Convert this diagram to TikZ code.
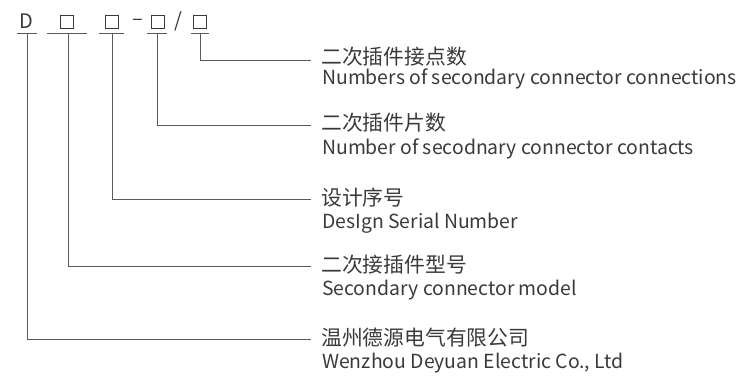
\documentclass[tikz,border=0pt]{standalone}
\usepackage{fontspec}
\setmainfont{Noto Sans CJK SC}
\begin{document}
\begin{tikzpicture}[x=1pt,y=-1pt,
  lbl/.style={anchor=west,inner sep=0pt,text=txtgray,font=\fontsize{19.4}{21}\selectfont},
  zh/.style={lbl,font=\fontsize{20.8}{22}\selectfont},
  sym/.style={inner sep=0pt,text=txtgray,font=\fontsize{20}{22}\selectfont},
  sq/.style={draw=txtgray,line width=0.8pt,minimum size=13.5pt,inner sep=0pt},
  ln/.style={draw=lngray,line width=0.9pt}]
\definecolor{txtgray}{HTML}{3A3A3A}
\definecolor{lngray}{HTML}{5A5A5A}
\useasboundingbox (0,0) rectangle (744,375);
% top code row
\node[sym] (d0) at (26,21) {D};
\node[sq] (b1) at (67,22) {};
\node[sq] (b2) at (112,22) {};
\node[sym] (dash) at (137.5,22) {–};
\node[sq] (b3) at (158,22) {};
\node[sym] (slash) at (178,21) {/};
\node[sq] (b4) at (200,22) {};
% underline centres
\coordinate (u0) at (27,33);
\coordinate (u1) at (68,33);
\coordinate (u2) at (112,33);
\coordinate (u3) at (157,33);
\coordinate (u4) at (200,33);
\draw[ln] (17,33) -- (37,33);
\draw[ln] (47,33) -- (87,33);
\draw[ln] (99,33) -- (124,33);
\draw[ln] (147,33) -- (167,33);
\draw[ln] (191,33) -- (209,33);
% labels
\node[zh] (c4) at (321,57) {二次插件接点数};
\node[lbl] (e4) at (322,79) {Numbers of secondary connector connections};
\node[zh] (c3) at (321,123) {二次插件片数};
\node[lbl] (e3) at (322,149) {Number of secodnary connector contacts};
\node[zh] (c2) at (321,198) {设计序号};
\node[lbl] (e2) at (322,223) {DesIgn Serial Number};
\node[zh] (c1) at (321,265) {二次接插件型号};
\node[lbl] (e1) at (322,290) {Secondary connector model};
\node[zh] (c0) at (321,338) {温州德源电气有限公司};
\node[lbl] (e0) at (322,363) {Wenzhou Deyuan Electric Co., Ltd};
% connectors
\draw[ln] (u4) |- (311,60);
\draw[ln] (u3) |- (311,125);
\draw[ln] (u2) |- (311,199);
\draw[ln] (u1) |- (311,266);
\draw[ln] (u0) |- (311,339);
\end{tikzpicture}
\end{document}
